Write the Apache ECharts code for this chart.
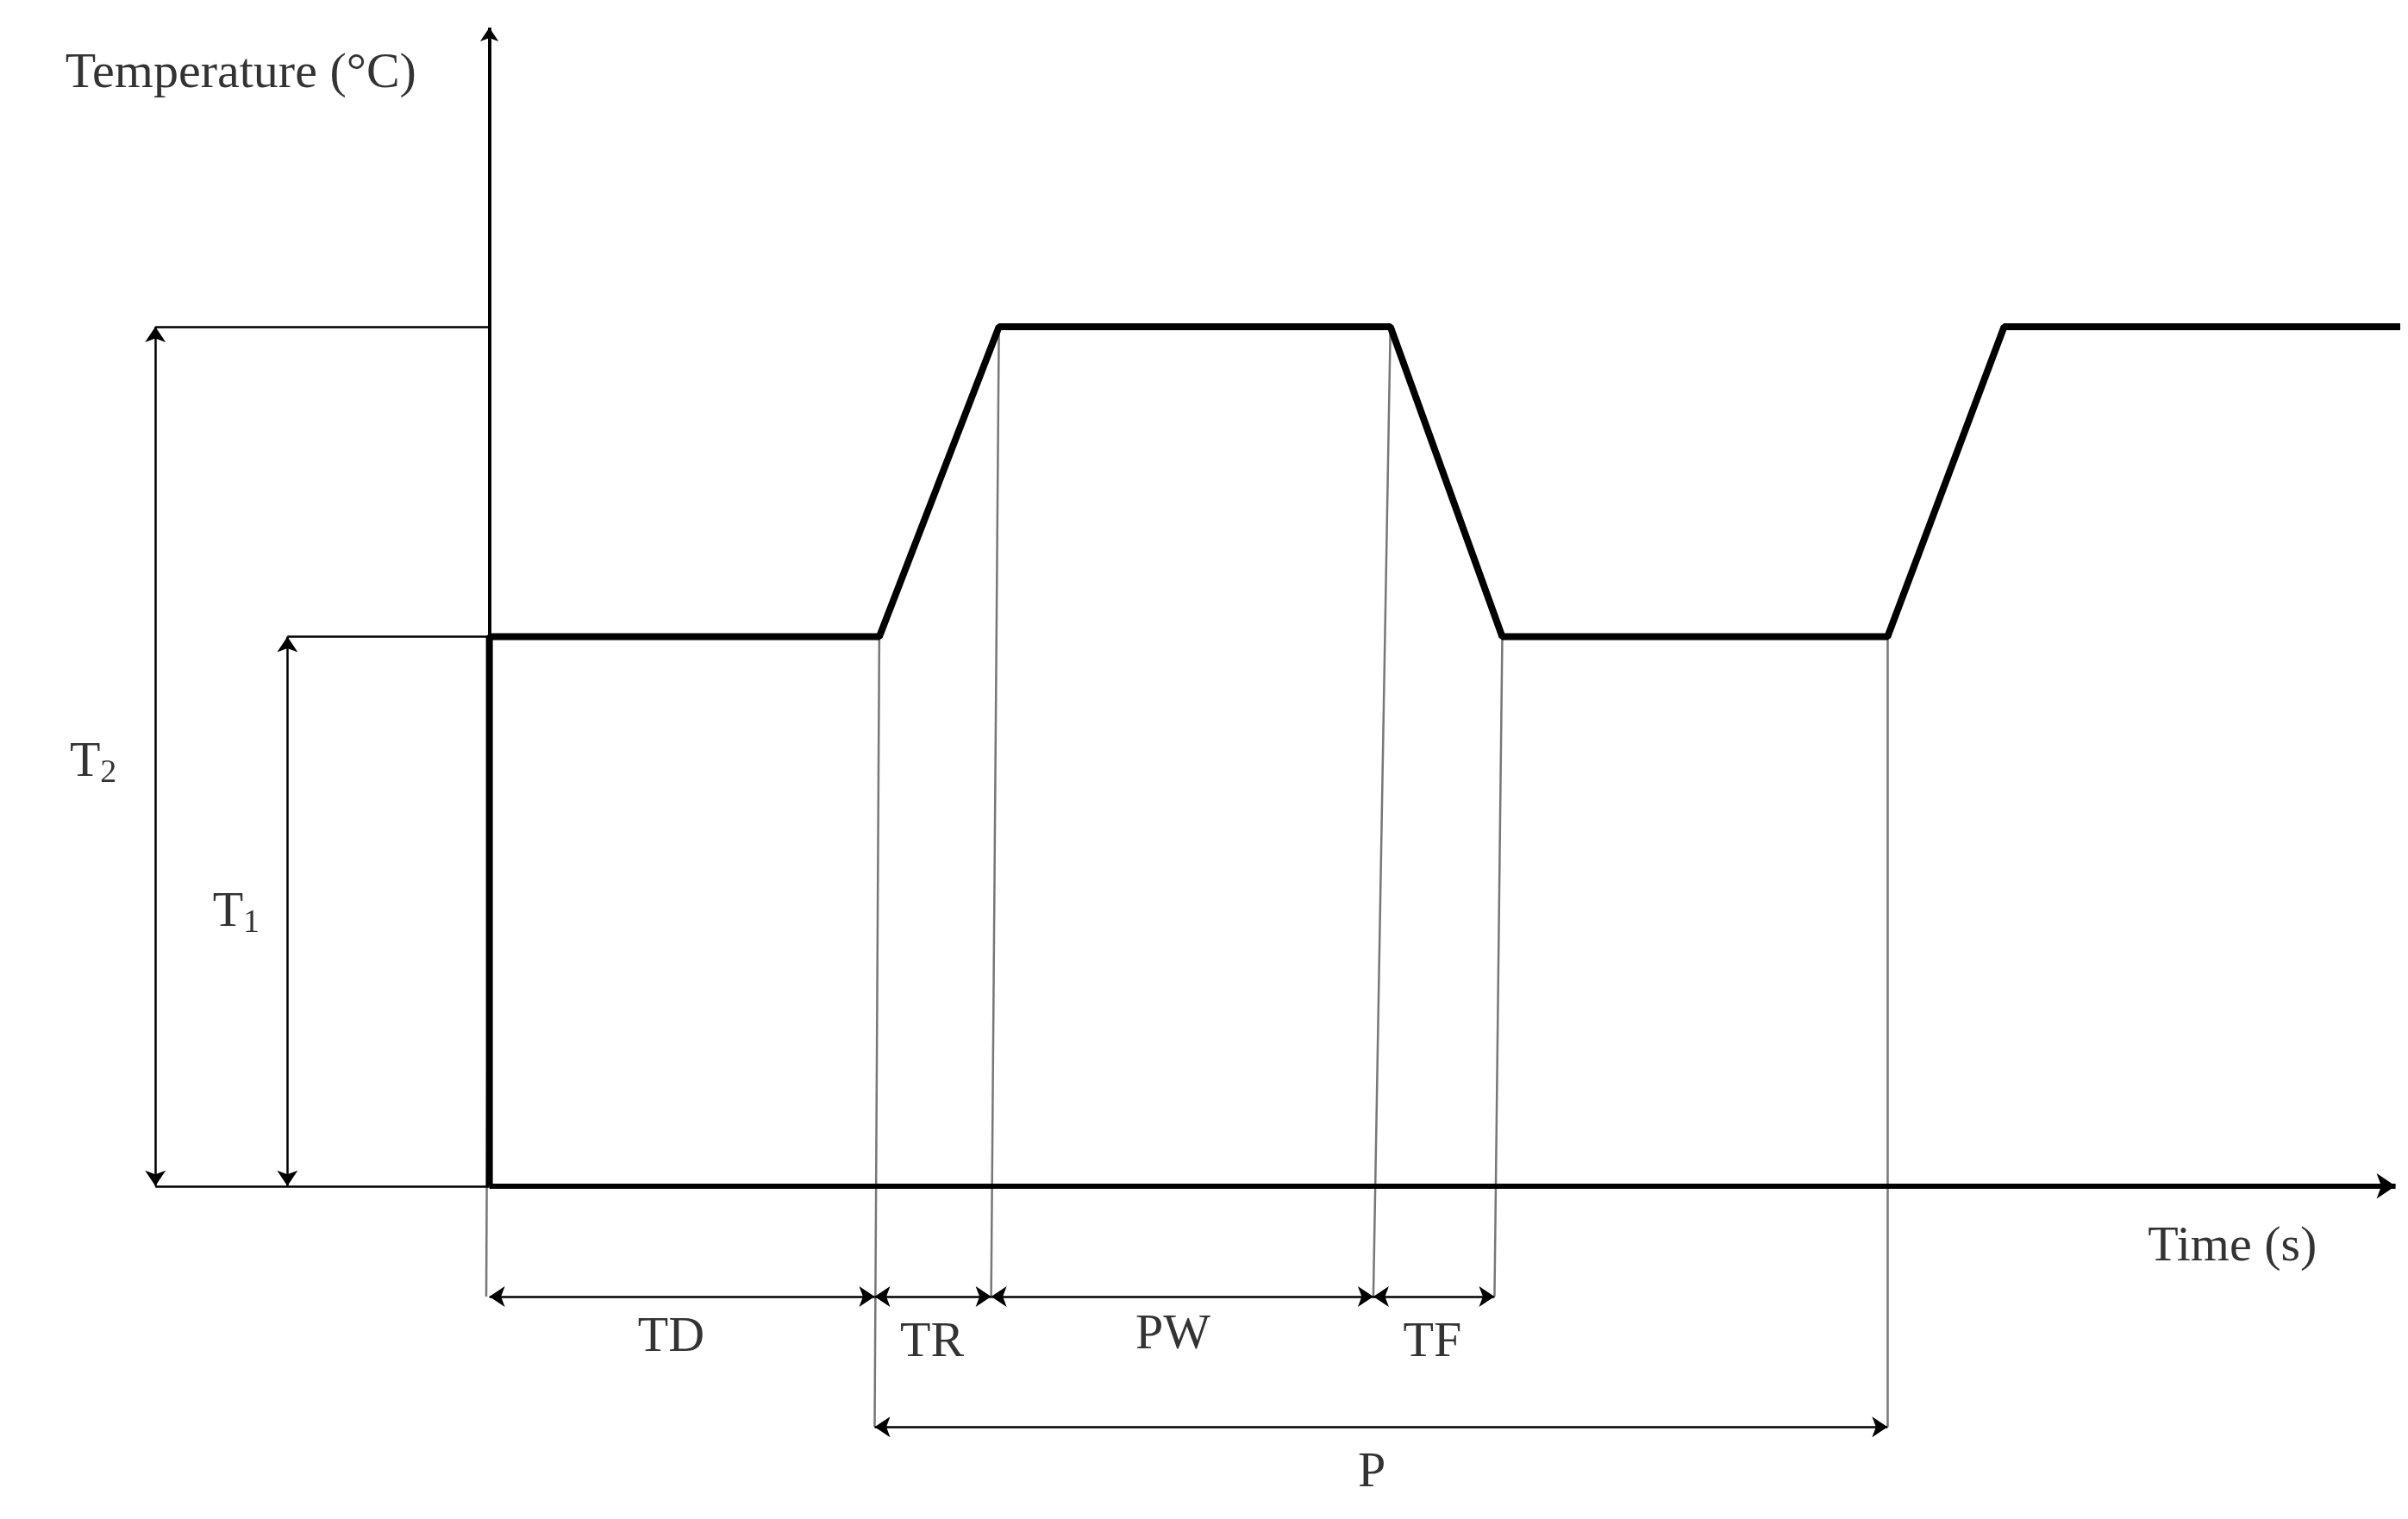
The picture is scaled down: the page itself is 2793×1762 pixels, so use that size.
<!DOCTYPE html>
<html>
<head>
<meta charset="utf-8">
<script src="https://cdn.jsdelivr.net/npm/echarts@6/dist/echarts.min.js"></script>
<style>html,body{margin:0;padding:0;background:#fff}#c{width:2793px;height:1762px}</style>
</head>
<body>
<div id="c"></div>
<script>
// schematic units: time t, temperature T (origin at axes crossing)
var waveT = [0, 0, 251, 328, 580, 652, 900, 975, 1230];
var waveY = [0, 358, 358, 560, 560, 358, 358, 560, 560];
// guide lines from wave corners down to the dimension rows
var guides = [[0, 358, -2, -72], [251, 358, 248, -157], [328, 560, 323, -72], [580, 560, 569, -72], [652, 358, 647, -72], [900, 358, 900, -157]];
// dimension arrows [t1, t2, y]
var dims = [[0, 248, -72], [248, 323, -72], [323, 569, -72], [569, 647, -72], [248, 900, -157]];
var dimLabels = ['TD', 'TR', 'PW', 'TF', 'P'];
var dimLabelPos = [[117, -99], [285, -102], [440, -97], [607, -102], [568, -187]];
var T1 = 358, T2 = 560;

var chart = echarts.init(document.getElementById('c'));
var thin = {color: '#000', width: 2.5, opacity: 1};
var lines = [];
lines.push({coords: [[-215, T2], [0, T2]]});
lines.push({coords: [[-130, T1], [0, T1]]});
lines.push({coords: [[-215, 0], [0, 0]]});
var arrows = [];
arrows.push({coords: [[-215, T2], [-215, 0]]});
arrows.push({coords: [[-130, T1], [-130, 0]]});
dims.forEach(function (d) { arrows.push({coords: [[d[0], d[2]], [d[1], d[2]]]}); });
var guideLines = guides.map(function (g) { return {coords: [[g[0], g[1]], [g[2], g[3]]]}; });

var serif = '"Liberation Serif", "DejaVu Serif", serif';
var texts = dimLabels.map(function (l, i) { return {value: dimLabelPos[i], name: l}; });
texts.push({value: [1122, -40], name: 'Time (s)'});
texts.push({value: [-160, 725], name: 'Temperature (°C)'});
texts.push({value: [-255, 276], name: '{m|T}{s|2}'});
texts.push({value: [-163, 178], name: '{m|T}{s|1}'});

chart.setOption({
  animation: false,
  grid: {left: 0, right: 0, top: 0, bottom: 0},
  xAxis: {type: 'value', min: -315, max: 1235, show: false},
  yAxis: {type: 'value', min: -217, max: 773, show: false},
  series: [
    {type: 'lines', coordinateSystem: 'cartesian2d', silent: true, lineStyle: {color: '#777', width: 2.5, opacity: 1}, data: guideLines, z: 1},
    {type: 'lines', coordinateSystem: 'cartesian2d', silent: true, lineStyle: thin, data: lines, z: 2},
    {type: 'lines', coordinateSystem: 'cartesian2d', silent: true, symbol: ['arrow', 'arrow'], symbolSize: 18, lineStyle: thin, data: arrows, z: 2},
    // axes
    {type: 'lines', coordinateSystem: 'cartesian2d', silent: true, symbol: ['none', 'arrow'], symbolSize: 22, lineStyle: {color: '#000', width: 6, opacity: 1}, data: [{coords: [[0, 0], [1227, 0]]}], z: 3},
    {type: 'lines', coordinateSystem: 'cartesian2d', silent: true, symbol: ['none', 'arrow'], symbolSize: 16, lineStyle: {color: '#000', width: 4, opacity: 1}, data: [{coords: [[0, 0], [0, 755]]}], z: 3},
    {type: 'line', symbol: 'none', lineStyle: {color: '#000', width: 8}, z: 4,
      data: waveT.map(function (t, i) { return [t, waveY[i]]; })},
    {type: 'scatter', symbolSize: 0, z: 5, data: texts,
      label: {show: true, position: 'inside', formatter: '{b}', color: '#000', fontFamily: serif, fontSize: 58,
        rich: {m: {fontSize: 58, fontFamily: serif, color: '#000'}, s: {fontSize: 38, fontFamily: serif, color: '#000', padding: [24, 0, 0, 0]}}}}
  ]
});
</script>
</body>
</html>
